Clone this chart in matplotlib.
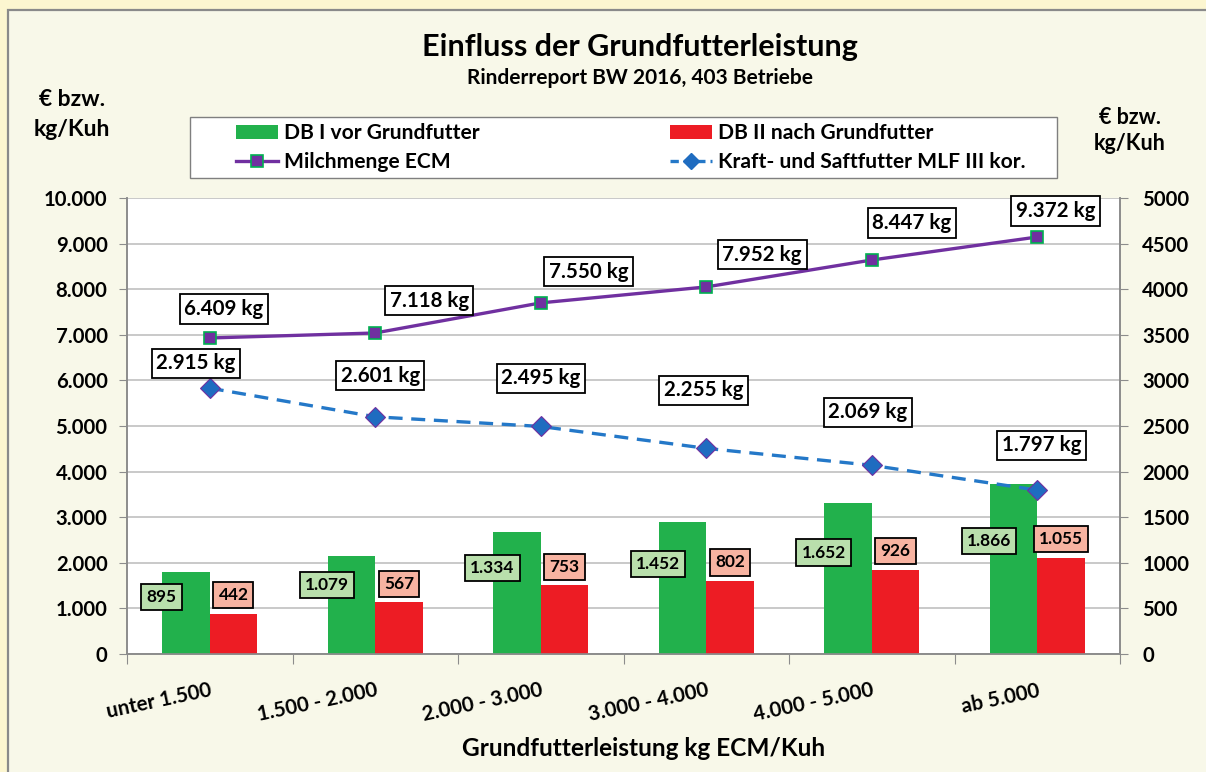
import matplotlib
matplotlib.use("Agg")
import matplotlib.pyplot as plt
from matplotlib.patches import Rectangle, Patch
from matplotlib.lines import Line2D
from matplotlib.ticker import FuncFormatter, MultipleLocator
import numpy as np

# ---------------- data ----------------
categories = ["unter 1.500", "1.500 - 2.000", "2.000 - 3.000",
              "3.000 - 4.000", "4.000 - 5.000", "ab 5.000"]
db1_vor = [895, 1079, 1334, 1452, 1652, 1866]
db2_nach = [442, 567, 753, 802, 926, 1055]
# Milchmenge: position of the drawn points (left axis) and printed label values
milch_plotted = [6930, 7040, 7700, 8050, 8640, 9145]
milch_labels = [6409, 7118, 7550, 7952, 8447, 9372]
kraft = [2915, 2601, 2495, 2255, 2069, 1797]

series_names = ["DB I vor Grundfutter", "DB II nach Grundfutter",
                "Milchmenge ECM", "Kraft- und Saftfutter MLF III kor."]

# ---------------- layout (pixel offsets of the data labels) ----------------
milch_off = [(14, 29), (54, 32), (48, 31), (56, 32), (40, 37), (18, 26)]
kraft_off = [(-14, 25), (5, 41), (0, 48), (-3, 58), (-4, 53), (4, 45)]


def de(v):
    return f"{int(round(v)):,}".replace(",", ".")


plt.rcParams['font.family'] = ['Lato', 'DejaVu Sans']
plt.rcParams['font.weight'] = 'bold'

W, H = 1206, 772
fig = plt.figure(figsize=(W / 100, H / 100), dpi=100)
fig.patch.set_facecolor('#FCF6D0')
fig.patches.append(Rectangle((8 / W, -0.05), 1.2, 1 - 10 / H + 0.05,
                             transform=fig.transFigure, facecolor='#F8F8E9',
                             edgecolor='#8A8A8A', lw=1.6, zorder=-10))

GREEN = '#22B14C'
RED = '#ED1C24'
PURPLE = '#7030A0'
MGREEN = '#00B050'
BLUE = '#2478C8'
DBLUE = '#1F6CC0'
AXC = '#8C8C8C'

ax = fig.add_axes([127 / W, 1 - 654 / H, (1120 - 127) / W, (654 - 198) / H])
ax.set_facecolor('white')
ax2 = ax.twinx()

x = np.arange(len(categories))
bw = 1 / 3.5

ax2.bar(x - bw / 2, db1_vor, bw, color=GREEN, zorder=2)
ax2.bar(x + bw / 2, db2_nach, bw, color=RED, zorder=2)

ax.plot(x, milch_plotted, color=PURPLE, lw=2.4, marker='s', ms=8.5,
        mfc=PURPLE, mec=MGREEN, mew=1.2, zorder=3)
ax2.plot(x, kraft, color=BLUE, lw=2.4, dashes=(4.2, 2.6), marker='D', ms=10,
         mfc=DBLUE, mec=PURPLE, mew=0.8, zorder=4)

# axes ranges / ticks
ax.set_xlim(-0.5, len(categories) - 0.5)
ax.set_ylim(0, 10000)
ax2.set_ylim(0, 5000)
ax.yaxis.set_major_locator(MultipleLocator(1000))
ax.yaxis.set_major_formatter(FuncFormatter(lambda v, p: de(v)))
ax2.yaxis.set_major_locator(MultipleLocator(500))
ax2.yaxis.set_major_formatter(FuncFormatter(lambda v, p: f"{int(v)}"))

ax.set_xticks(np.arange(-0.5, len(categories), 1.0))
ax.set_xticklabels([])
ax.set_xticks(x, minor=True)
ax.set_xticklabels(categories, minor=True, rotation=12, ha='right',
                   rotation_mode='anchor', fontsize=14.8, fontweight='bold')
ax.tick_params(axis='x', which='major', length=7, color=AXC, direction='out')
ax.tick_params(axis='x', which='minor', length=0, pad=19)
ax.tick_params(axis='y', length=6, color=AXC, labelsize=14.6, pad=8)
ax2.tick_params(axis='y', length=6, color=AXC, labelsize=14.6, pad=10)
for lab in ax.get_yticklabels() + ax2.get_yticklabels():
    lab.set_fontweight('bold')

ax.grid(axis='y', color='#C0C0C0', lw=1.2)
ax.set_axisbelow(True)
for a in (ax, ax2):
    a.spines['top'].set_visible(False)
    for s in ('left', 'right', 'bottom'):
        a.spines[s].set_color(AXC)
        a.spines[s].set_linewidth(1.2)

# data labels: lines
for i, (v, off) in enumerate(zip(milch_labels, milch_off)):
    ax.annotate(f"{de(v)} kg", xy=(x[i], milch_plotted[i]), xytext=off,
                textcoords='offset pixels', ha='center', va='center',
                fontsize=14.8, fontweight='bold', zorder=6,
                bbox=dict(boxstyle='square,pad=0.22', fc='white', ec='black', lw=1.3))
for i, (v, off) in enumerate(zip(kraft, kraft_off)):
    ax2.annotate(f"{de(v)} kg", xy=(x[i], v), xytext=off,
                 textcoords='offset pixels', ha='center', va='center',
                 fontsize=14.8, fontweight='bold', zorder=6,
                 bbox=dict(boxstyle='square,pad=0.22', fc='white', ec='black', lw=1.3))

# data labels: bars
for i in range(len(categories)):
    ax2.annotate(de(db1_vor[i]), xy=(x[i] - bw, db2_nach[i]), xytext=(-1, 17),
                 textcoords='offset pixels', ha='center', va='center',
                 fontsize=12.4, fontweight='bold', zorder=6,
                 bbox=dict(boxstyle='square,pad=0.3', fc='#B9DFAC', ec='black', lw=1.3))
    ax2.annotate(de(db2_nach[i]), xy=(x[i] + bw / 2, db2_nach[i]), xytext=(0, 18.5),
                 textcoords='offset pixels', ha='center', va='center',
                 fontsize=12.4, fontweight='bold', zorder=6,
                 bbox=dict(boxstyle='square,pad=0.3', fc='#F7B3A1', ec='black', lw=1.3))

# titles and axis texts
fig.text(640 / W, 1 - 47 / H, "Einfluss der Grundfutterleistung", ha='center',
         va='center', fontsize=22, fontweight='bold')
fig.text(640 / W, 1 - 78 / H, "Rinderreport BW 2016, 403 Betriebe", ha='center',
         va='center', fontsize=15, fontweight='bold')
fig.text(72 / W, 1 - 100 / H, "€ bzw.", ha='center', va='center', fontsize=16.5, fontweight='bold')
fig.text(72 / W, 1 - 129 / H, "kg/Kuh", ha='center', va='center', fontsize=16.5, fontweight='bold')
fig.text(1130 / W, 1 - 118 / H, "€ bzw.", ha='center', va='center', fontsize=15.5, fontweight='bold')
fig.text(1130 / W, 1 - 143 / H, "kg/Kuh", ha='center', va='center', fontsize=15.5, fontweight='bold')
fig.text(644 / W, 1 - 748 / H, "Grundfutterleistung kg ECM/Kuh", ha='center',
         va='center', fontsize=17.6, fontweight='bold')

# legend
fig.patches.append(Rectangle((190 / W, 1 - 178 / H), (1057 - 190) / W, 61 / H,
                             transform=fig.transFigure, facecolor='white',
                             edgecolor='#7F7F7F', lw=1.0, zorder=1))
h_db1 = Patch(facecolor=GREEN)
h_db2 = Patch(facecolor=RED)
h_milch = Line2D([], [], color=PURPLE, lw=2.4, marker='s', ms=8.5, mfc=PURPLE,
                 mec=MGREEN, mew=1.2)
h_kraft = Line2D([], [], color=BLUE, lw=2.4, dashes=(2.5, 1.5), marker='D', ms=8,
                 mfc=DBLUE, mec=DBLUE)
common = dict(loc='upper left', frameon=False, fontsize=15.1, handlelength=2.0,
              handleheight=0.65, handletextpad=0.3, labelspacing=0.42,
              borderpad=0, borderaxespad=0)
leg1 = fig.legend([h_db1, h_milch], [series_names[0], series_names[2]],
                  bbox_to_anchor=(236 / W, 1 - 123 / H), **common)
leg2 = fig.legend([h_db2, h_kraft], [series_names[1], series_names[3]],
                  bbox_to_anchor=(670 / W, 1 - 123 / H), **common)
for lg in (leg1, leg2):
    lg.set_zorder(5)

fig.savefig("out.png", dpi=100, facecolor=fig.get_facecolor())
